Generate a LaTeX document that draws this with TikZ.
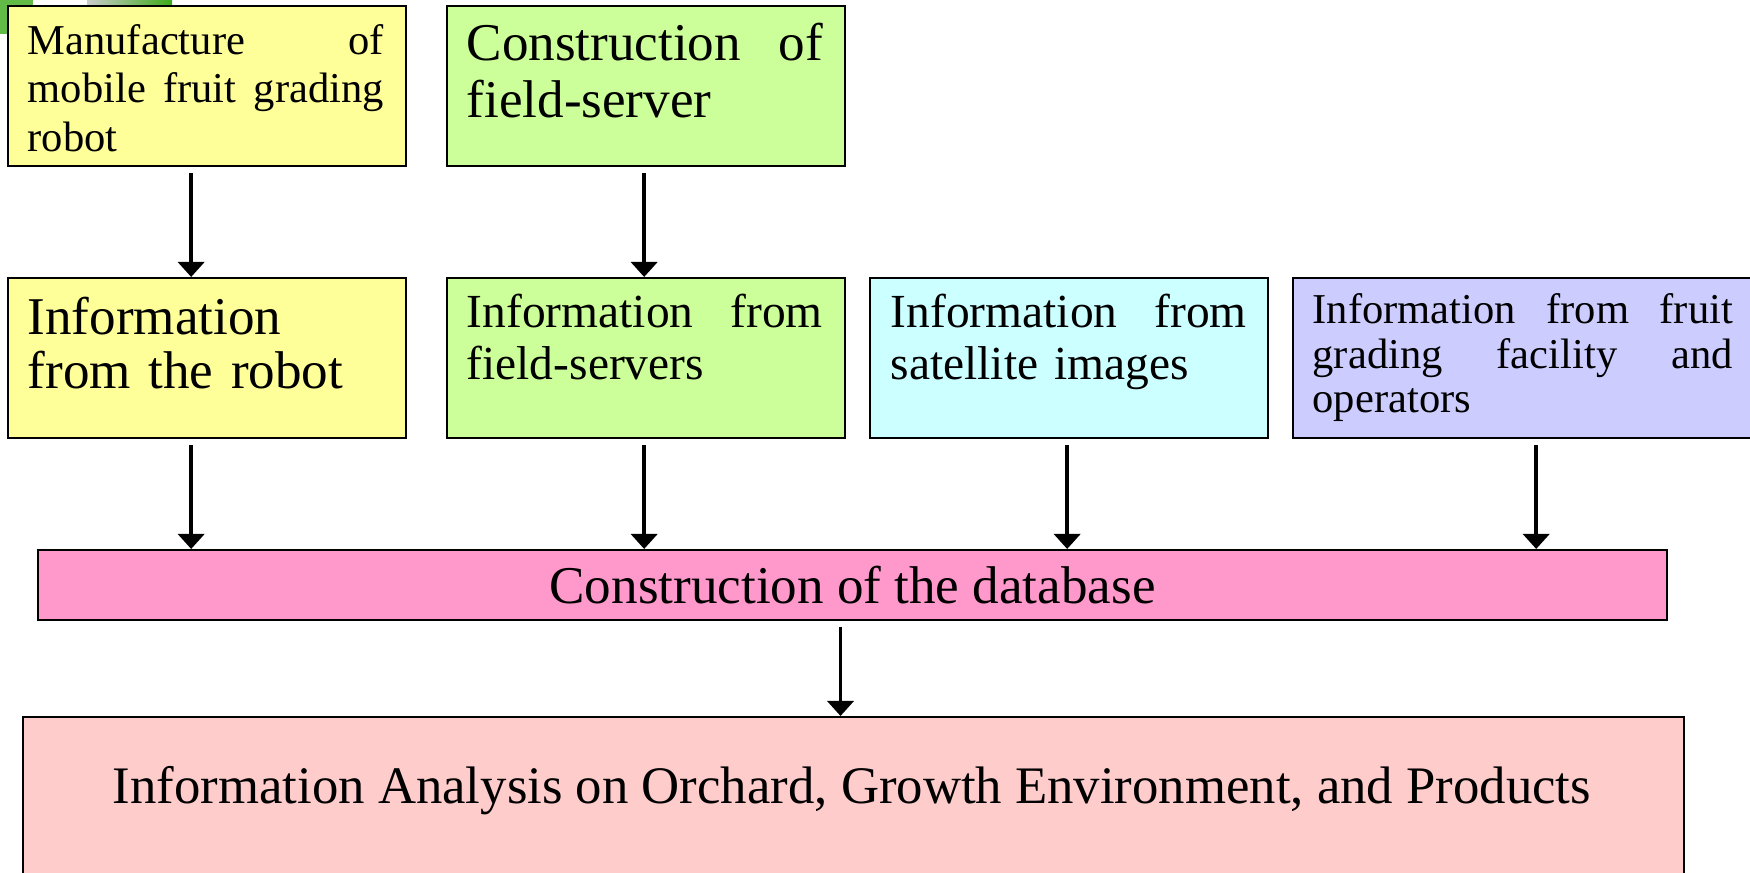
\documentclass[tikz,border=0pt]{standalone}
\usepackage{fontspec}
\setmainfont{Liberation Serif}
\usetikzlibrary{arrows.meta,positioning}

\definecolor{robotyellow}{RGB}{255,255,153}
\definecolor{fieldgreen}{RGB}{204,255,153}
\definecolor{satcyan}{RGB}{204,255,255}
\definecolor{gradeviolet}{RGB}{204,204,255}
\definecolor{dbpink}{RGB}{255,153,204}
\definecolor{analysisrose}{RGB}{255,204,204}
\definecolor{leafgreen}{RGB}{60,170,25}

\begin{document}
\begin{tikzpicture}[x=0.01cm, y=-0.01cm,
    box/.style={draw, line width=0.6pt, anchor=north west, minimum width=3.98cm, minimum height=1.6cm, inner sep=0pt},
    txt/.style={anchor=north west, inner sep=0pt, text width=3.56cm, align=left},
    arr/.style={line width=1.1pt, -{Triangle[width=2.6mm,length=1.5mm]}, shorten <=0.06cm}]
    \useasboundingbox (0,0) rectangle (1750,873);
    \begin{scope}
        \clip (0,0) rectangle (1750,873);

        % Leftover picture corner behind the first box
        \fill[leafgreen!80!white] (0,0) rectangle (33,34);
        \shade[left color=gray!40, right color=leafgreen] (87,0) rectangle (172,6);

        % Top row
        \node[box, fill=robotyellow] (manu) at (7,5) {};
        \node[box, fill=fieldgreen] (fserver) at (446,5) {};
        \node[txt, font=\fontsize{12.1}{13.7}\selectfont] (manu-t) at (27,24)
            {Manufacture\hfill of\\mobile\hfill fruit\hfill grading\\robot};
        \node[txt, font=\fontsize{15.1}{16.2}\selectfont] (fserver-t) at (466,22)
            {Construction\hfill of\\field-server};

        % Information sources
        \node[box, fill=robotyellow] (robot) at (7,277) {};
        \node[box, fill=fieldgreen] (fsinfo) at (446,277) {};
        \node[box, fill=satcyan] (sat) at (869,277) {};
        \node[box, fill=gradeviolet, minimum width=4.6cm] (grading) at (1292,277) {};
        \node[txt, font=\fontsize{15.1}{15.6}\selectfont] (robot-t) at (27,296)
            {Information\\from the robot};
        \node[txt, font=\fontsize{13.5}{14.8}\selectfont] (fsinfo-t) at (466,293)
            {Information\hfill from\\field-servers};
        \node[txt, font=\fontsize{13.5}{14.8}\selectfont] (sat-t) at (890,293)
            {Information\hfill from\\satellite images};
        \node[txt, text width=4.2cm, font=\fontsize{12.1}{12.7}\selectfont] (grading-t) at (1312,293)
            {Information\hfill from\hfill fruit\\grading\hfill facility\hfill and\\operators};

        % Database and analysis
        \node[box, fill=dbpink, minimum width=16.28cm, minimum height=0.7cm,
            font=\fontsize{15.1}{16}\selectfont] (db) at (37,549) {Construction of the database};
        \node[box, fill=analysisrose, minimum width=16.6cm, minimum height=2cm] (analysis) at (22,716) {};
        \node[font=\fontsize{15}{16}\selectfont, inner sep=0pt] (analysis-t) at (852,791)
            {Information Analysis on Orchard, Growth Environment, and Products};

        % Arrows
        \draw[arr] ([xshift=-0.16cm]manu.south) -- ([xshift=-0.16cm]robot.north);
        \draw[arr] ([xshift=-0.02cm]fserver.south) -- ([xshift=-0.02cm]fsinfo.north);
        \draw[arr] ([xshift=-0.16cm]robot.south) -- ([xshift=-0.16cm]robot.south |- db.north);
        \draw[arr] ([xshift=-0.02cm]fsinfo.south) -- ([xshift=-0.02cm]fsinfo.south |- db.north);
        \draw[arr] ([xshift=-0.02cm]sat.south) -- ([xshift=-0.02cm]sat.south |- db.north);
        \draw[arr] ([xshift=0.13cm]grading.south) -- ([xshift=0.13cm]grading.south |- db.north);
        \draw[arr] ([xshift=-0.12cm]db.south) -- ([xshift=-0.12cm]db.south |- analysis.north);
    \end{scope}
\end{tikzpicture}
\end{document}
